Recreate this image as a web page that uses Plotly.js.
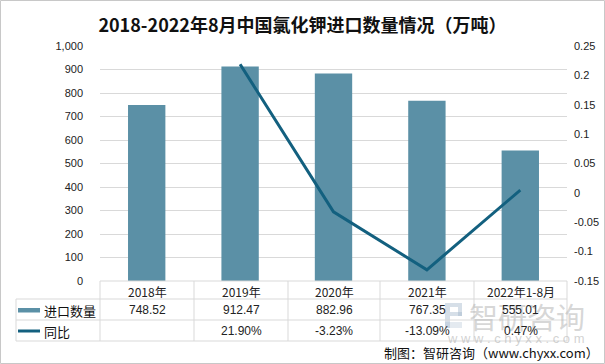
<!DOCTYPE html>
<html><head><meta charset="utf-8">
<script src="https://cdn.plot.ly/plotly-3.0.1.min.js"></script>
<style>html,body{margin:0;padding:0;background:#fff}#c{width:605px;height:364px}</style>
</head><body><div id="c"></div>
<script>
const categories = ['2018年','2019年','2020年','2021年','2022年1-8月'];
const importVolume = [748.52, 912.47, 882.96, 767.35, 555.01];
const yoyGrowth = [null, 0.2190, -0.0323, -0.1309, 0.0047];
const volumeLabels = ['748.52','912.47','882.96','767.35','555.01'];
const yoyLabels = ['', '21.90%', '-3.23%', '-13.09%', '0.47%'];
const leftTicks = [0,100,200,300,400,500,600,700,800,900,1000];
const leftTickText = ['0','100','200','300','400','500','600','700','800','900','1,000'];
const rightTicks = [-0.15,-0.1,-0.05,0,0.05,0.1,0.15,0.2,0.25];
const rightTickText = ['-0.15','-0.1','-0.05','0','0.05','0.1','0.15','0.2','0.25'];
const seriesNames = ['进口数量','同比'];

const W=605,H=364,L=100,R=567,T=46,B=281;
const px = x => (x-L)/(R-L);
const py = y => (B-y)/(B-T);
const barColor = '#5B90A6', lineColor = '#13607F', gridColor = '#D9D9D9';
const font = 'Liberation Sans, Arial, sans-serif';
const cjk = 'Noto Sans CJK SC, sans-serif';

const shapes = [];
const annotations = [];
function hline(x0,x1,y){shapes.push({type:'line',xref:'paper',yref:'paper',x0:px(x0),x1:px(x1),y0:py(y),y1:py(y),line:{color:gridColor,width:1}});}
function vline(x,y0,y1){shapes.push({type:'line',xref:'paper',yref:'paper',x0:px(x),x1:px(x),y0:py(y0),y1:py(y1),line:{color:gridColor,width:1}});}
function rect(x0,x1,y0,y1,fill){shapes.push({type:'rect',xref:'paper',yref:'paper',x0:px(x0),x1:px(x1),y0:py(y0),y1:py(y1),fillcolor:fill,line:{width:0}});}
function txt(x,y,text,f,xa){annotations.push({xref:'paper',yref:'paper',x:px(x),y:py(y),xanchor:xa||'center',yanchor:'middle',text:text,showarrow:false,font:f});}

// watermark
const wm = 'rgba(165,185,205,0.45)';
rect(445,450,303,328,wm);
rect(450,462,303,307,wm);
rect(458,462,307,316,wm);
rect(450,462,312,316,wm);
rect(445,462,322,328,'rgba(165,185,205,0.3)');
txt(527,316,'智研咨询',{family:cjk,size:29,color:'rgba(180,180,180,0.55)'});
txt(516,338,'w w w . c h y x x . c o m',{family:font,size:13,color:'rgba(180,180,180,0.6)'});

// table grid
const colX = [100,194,288,380,474,567];
hline(100,567,281);
hline(16,567,299);
hline(16,567,320);
hline(16,567,341);
vline(16,299,341);
colX.forEach(x=>vline(x,281,341));

const rowCenters = [291,310,331];
categories.forEach((c,i)=>{
  const cx=(colX[i]+colX[i+1])/2;
  txt(cx,rowCenters[0],c,{family:cjk,size:12,color:'#222'});
  txt(cx,rowCenters[1],volumeLabels[i],{family:font,size:12,color:'#222'});
  if(yoyLabels[i]) txt(cx,rowCenters[2],yoyLabels[i],{family:font,size:12,color:'#222'});
});
// legend keys
rect(18,40,308,312.5,barColor);
shapes.push({type:'line',xref:'paper',yref:'paper',x0:px(18),x1:px(40),y0:py(331),y1:py(331),line:{color:lineColor,width:3}});
txt(42,rowCenters[1],seriesNames[0],{family:cjk,size:13,color:'#111'},'left');
txt(42,rowCenters[2],seriesNames[1],{family:cjk,size:13,color:'#111'},'left');

// source
txt(601,352,'制图：智研咨询（www.chyxx.com）',{family:cjk,size:13,color:'#111'},'right');

// outer border
shapes.push({type:'rect',xref:'paper',yref:'paper',x0:px(0.5),x1:px(604.5),y0:py(0.5),y1:py(363.5),line:{color:'#C8C8C8',width:1}});

const data = [
  {type:'bar',x:categories,y:importVolume,name:seriesNames[0],marker:{color:barColor},width:0.4,hoverinfo:'skip'},
  {type:'scatter',mode:'lines',x:categories,y:yoyGrowth,name:seriesNames[1],yaxis:'y2',line:{color:lineColor,width:3},hoverinfo:'skip',connectgaps:false}
];
const layout = {
  width:W,height:H,
  margin:{l:L,r:W-R,t:T,b:H-B,pad:0},
  paper_bgcolor:'#fff',plot_bgcolor:'#fff',
  showlegend:false,
  title:{text:'<b>2018-2022年8月中国氯化钾进口数量情况（万吨）</b>',x:0.5,xanchor:'center',y:1-26/H,yanchor:'middle',font:{family:cjk,size:18,color:'#111'}},
  xaxis:{type:'category',showticklabels:false,showgrid:false,zeroline:false,showline:false,ticks:'',range:[-0.5,4.5]},
  yaxis:{range:[0,1000],tickvals:leftTicks,ticktext:leftTickText,showgrid:true,gridcolor:gridColor,gridwidth:1,zeroline:false,showline:false,ticks:'',tickfont:{family:font,size:11,color:'#222'},ticklabelstandoff:16},
  yaxis2:{overlaying:'y',side:'right',range:[-0.15,0.25],tickvals:rightTicks,ticktext:rightTickText,showgrid:false,zeroline:false,showline:false,ticks:'',tickfont:{family:font,size:11,color:'#222'},ticklabelstandoff:6},
  shapes:shapes,annotations:annotations
};
Plotly.newPlot('c',data,layout,{displayModeBar:false,staticPlot:true});
</script></body></html>
